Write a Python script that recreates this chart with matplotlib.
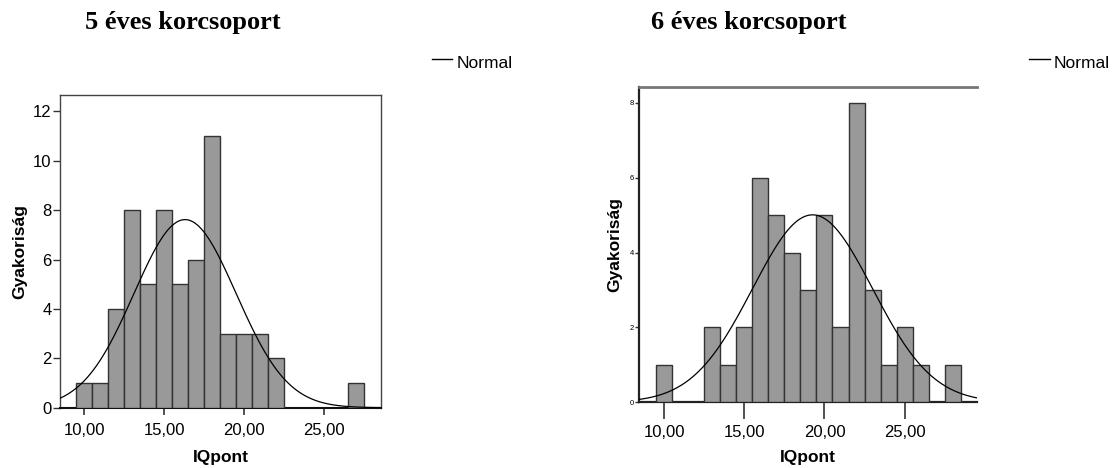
import numpy as np
import matplotlib
matplotlib.use("Agg")
import matplotlib.pyplot as plt
from matplotlib.lines import Line2D

# IQ score bins (integer centres, width 1) and frequencies per age group
bins_5 = [10, 11, 12, 13, 14, 15, 16, 17, 18, 19, 20, 21, 22, 27]
counts_5 = [1, 1, 4, 8, 5, 8, 5, 6, 11, 3, 3, 3, 2, 1]

bins_6 = [10, 13, 14, 15, 16, 17, 18, 19, 20, 21, 22, 23, 24, 25, 26, 28]
counts_6 = [1, 2, 1, 2, 6, 5, 4, 3, 5, 2, 8, 3, 1, 2, 1, 1]

titles = ["5 éves korcsoport", "6 éves korcsoport"]
xticks = [10, 15, 20, 25]
xtick_labels = ["10,00", "15,00", "20,00", "25,00"]
yticks_5 = [0, 2, 4, 6, 8, 10, 12]
yticks_6 = [0, 2, 4, 6, 8]

BAR = "#999999"
EDGE = "#333333"
SANS = "Liberation Sans"
SERIF = "Liberation Serif"

fig = plt.figure(figsize=(11.18, 4.68), dpi=100)


def normal_curve(ax, centres, counts, xlim):
    c = np.asarray(centres, float)
    n = np.asarray(counts, float)
    total = n.sum()
    mu = (c * n).sum() / total
    sd = np.sqrt(((c - mu) ** 2 * n).sum() / (total - 1))
    xs = np.linspace(xlim[0], xlim[1], 400)
    ys = total * 1.0 / (sd * np.sqrt(2 * np.pi)) * np.exp(-0.5 * ((xs - mu) / sd) ** 2)
    ax.plot(xs, ys, color="black", lw=0.9, zorder=4)


def draw_hist(rect, centres, counts, xlim, ylim, yticks, ytick_size, xtick_len, xpad):
    ax = fig.add_axes(rect)
    ax.bar(centres, counts, width=1.0, color=BAR, edgecolor=EDGE, linewidth=1.0, zorder=3)
    normal_curve(ax, centres, counts, xlim)
    ax.set_xlim(*xlim)
    ax.set_ylim(*ylim)
    ax.set_xticks(xticks)
    ax.set_xticklabels(xtick_labels, fontfamily=SANS, fontsize=12)
    ax.set_yticks(yticks)
    ax.set_yticklabels([str(v) for v in yticks], fontfamily=SANS, fontsize=ytick_size)
    ax.tick_params(axis="x", length=xtick_len, width=1.2, color="#333333", pad=xpad)
    ax.set_xlabel("IQpont", fontfamily=SANS, fontsize=12.5, fontweight="bold")
    ax.set_ylabel("Gyakoriság", fontfamily=SANS, fontsize=12.5, fontweight="bold")
    return ax


# 5-year-old group
ax1 = draw_hist([60 / 1118, 1 - 407.7 / 468, 321 / 1118, 312.7 / 468],
                bins_5, counts_5, (8.48, 28.54), (0, 12.66), yticks_5, 12, 5, 6)
ax1.tick_params(axis="y", length=5, width=1.0, color="#333333", pad=1)
for s in ax1.spines.values():
    s.set_color("#444444")
    s.set_linewidth(1.0)
ax1.spines["bottom"].set_color("#111111")
ax1.spines["bottom"].set_linewidth(1.5)
ax1.yaxis.set_label_coords(-0.103, 0.5)
ax1.xaxis.set_label_coords(0.5, -0.134)

# 6-year-old group
ax2 = draw_hist([639.3 / 1118, 1 - 402.3 / 468, 338 / 1118, 315.6 / 468],
                bins_6, counts_6, (8.44, 29.54), (0, 8.43), yticks_6, 5.5, 12, 4.5)
ax2.tick_params(axis="y", length=3, width=1.0, color="#333333", pad=1)
ax2.spines["right"].set_visible(False)
ax2.spines["top"].set_color("#777777")
ax2.spines["top"].set_linewidth(2.0)
for side in ("left", "bottom"):
    ax2.spines[side].set_color("#222222")
    ax2.spines[side].set_linewidth(1.6)
ax2.yaxis.set_label_coords(-0.051, 0.5)
ax2.xaxis.set_label_coords(0.5, -0.150)

# titles
fig.text(183 / 1118, 1 - 23 / 468, titles[0], fontfamily=SERIF, fontweight="bold",
         fontsize=19, ha="center", va="center")
fig.text(749 / 1118, 1 - 23 / 468, titles[1], fontfamily=SERIF, fontweight="bold",
         fontsize=19, ha="center", va="center")

# "Normal" legend entries
for x0, x1, xt in [(432, 452, 457), (1029, 1050, 1054)]:
    fig.add_artist(Line2D([x0 / 1118, x1 / 1118], [1 - 59 / 468, 1 - 59 / 468],
                          color="black", lw=1.0, transform=fig.transFigure))
    fig.text(xt / 1118, 1 - 63 / 468, "Normal", fontfamily=SANS, fontsize=12.5,
             ha="left", va="center")

fig.savefig("out.png", dpi=100)
